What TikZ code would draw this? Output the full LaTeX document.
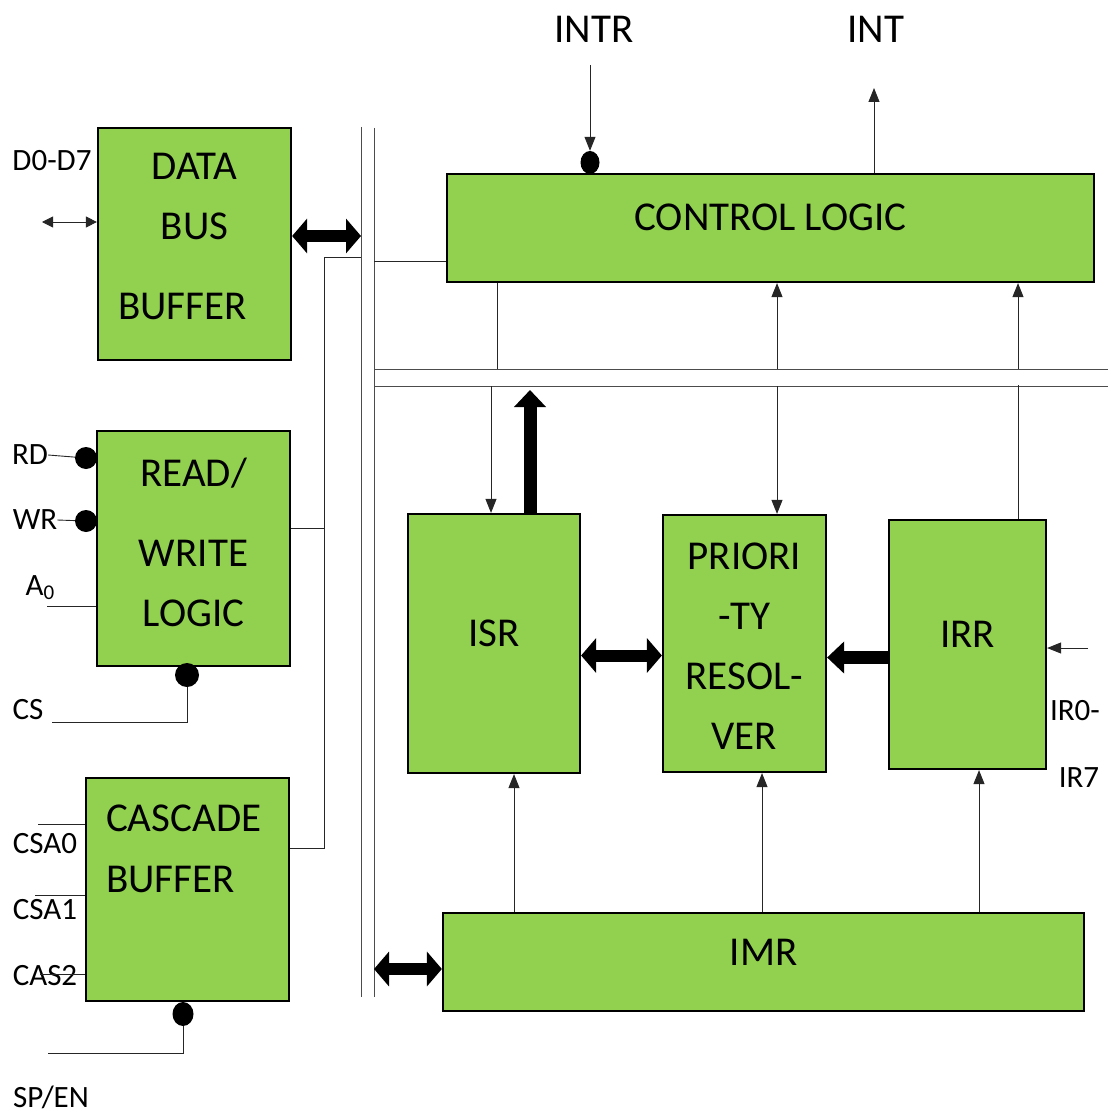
\documentclass[tikz,border=0pt]{standalone}
\usepackage{fontspec}
\setmainfont{Carlito}
\usetikzlibrary{arrows.meta,positioning,shapes.geometric}
\definecolor{blkgreen}{HTML}{92D050}
\newcommand{\bigtxt}{\fontsize{41}{60}\selectfont}
\newcommand{\pintxt}{\fontsize{31}{37}\selectfont}
\newcommand{\boxlines}[3]{\parbox[c][#1][t]{#2}{\centering\bigtxt #3}}
\tikzset{
  blk/.style={draw=black, fill=blkgreen, line width=2.2pt, inner sep=0pt, font=\bigtxt},
  oneline/.style={text height=26pt, text depth=20pt},
  pin/.style={inner sep=0pt, font=\pintxt},
  sig/.style={inner sep=0pt, font=\bigtxt},
  wire/.style={line width=0.9pt, draw=black!85},
  busline/.style={line width=1pt, draw=black!70},
  thinarr/.style={wire, -{Triangle[length=14pt,width=11pt]}},
  thinboth/.style={wire, {Triangle[length=11pt,width=11pt]}-{Triangle[length=11pt,width=11pt]}},
  fatarr/.style={line width=13pt, -{Triangle[length=17pt,width=31pt]}},
  fatboth/.style={line width=12pt, {Triangle[length=15pt,width=34pt]}-{Triangle[length=15pt,width=34pt]}},
  bubble/.style={ellipse, fill=black, inner sep=0pt}
}

\begin{document}
\begin{tikzpicture}[x=1pt, y=-1pt]
\useasboundingbox (0,0) rectangle (1114,1115);

\node[blk, minimum width=193pt, minimum height=232pt] (dbb) at (194.5,244) {\boxlines{182pt}{190pt}{DATA\\BUS\\[20pt]BUFFER\kern24pt}};
\node[blk, minimum width=193pt, minimum height=235pt] (rwl) at (193.5,548.5) {\boxlines{181pt}{190pt}{READ/\\[20pt]WRITE\\LOGIC}};
\node[blk, minimum width=203pt, minimum height=223pt] (cas) at (187.5,889.5) {\parbox[c][169pt][t]{163pt}{\bigtxt CASCADE\\[1pt]BUFFER}};
\node[blk, oneline, minimum width=647pt, minimum height=108pt] (ctl) at (770.5,228) {CONTROL LOGIC};
\node[blk, oneline, minimum width=172pt, minimum height=259pt] (isr) at (494,643.5) {ISR};
\node[blk, minimum width=163pt, minimum height=257pt] (pri) at (744.5,643.5) {\boxlines{201pt}{160pt}{PRIORI\\-TY\\RESOL-\\VER}};
\node[blk, oneline, minimum width=157pt, minimum height=249pt] (irr) at (967.5,644.5) {IRR};
\node[blk, oneline, minimum width=641pt, minimum height=98pt] (imr) at (763.5,962) {IMR};

\node[sig] (intr) at (594,29) {INTR};
\node[sig] (int) at (876,29) {INT};
\node[bubble, minimum width=19pt, minimum height=23pt] (intrb) at (590,162.5) {};
\coordinate (intrtop) at (590,65);
\coordinate (intend) at (874,88);
\draw[thinarr] (intrtop) -- (intrb);
\draw[thinarr] (ctl.north -| intend) -- (intend);

\node[pin] (dbus) at (52,161) {D0-D7};
\coordinate (dend) at (42,222);
\draw[thinboth] (dend) -- (dend -| dbb.west);

\node[pin] (rd) at (30,455) {RD};
\node[pin] (wr) at (35,520) {WR};
\node[pin] (a0) at (40,588) {A\raisebox{-4pt}{\fontsize{21}{21}\selectfont 0}};
\node[pin] (cs) at (28,710) {CS};
\node[bubble, minimum size=22pt] (rddot) at (86,458) {};
\node[bubble, minimum size=22pt] (wrdot) at (86,521) {};
\node[bubble, minimum size=24pt] (csdot) at (187,675) {};
\coordinate (a0end) at (47,606);
\coordinate (csend) at (52,722);
\draw[wire] (rd.east) -- (rddot);
\draw[wire] (wr.east) -- (wrdot);
\draw[wire] (a0end) -- (a0end -| rwl.west);
\draw[wire] (csdot) |- (csend);

\node[pin] (csa0) at (45,844) {CSA0};
\node[pin] (csa1) at (45,910) {CSA1};
\node[pin] (cas2) at (45,976) {CAS2};
\node[pin] (spen) at (51,1097) {SP/EN};
\node[bubble, minimum width=21pt, minimum height=24pt] (spdot) at (183,1014) {};
\coordinate (csa0end) at (38,824);
\coordinate (csa1end) at (35,895);
\coordinate (cas2end) at (40,974);
\coordinate (spend) at (48,1053);
\draw[wire] (csa0end) -- (csa0end -| cas.west);
\draw[wire] (csa1end) -- (csa1end -| cas.west);
\draw[wire] (cas2end) -- (cas2end -| cas.west);
\draw[wire] (spdot) |- (spend);

\coordinate (bl1) at (361,127);
\coordinate (bl2) at (361,997);
\coordinate (br1) at (374,128);
\coordinate (br2) at (374,997);
\coordinate (bh1) at (1108,369);
\coordinate (bh2) at (1108,386);
\draw[busline] (bl1) -- (bl2);
\draw[busline] (br1) -- (br2);
\draw[busline] (br1 |- bh1) -- (bh1);
\draw[busline] (br1 |- bh2) -- (bh2);

\draw[fatboth] ([yshift=8pt]dbb.east) -- ([yshift=8pt]dbb.east -| bl1);
\draw[wire] ([yshift=-33pt]ctl.west) -- ([yshift=-33pt]ctl.west -| br1);
\coordinate (jtop) at (324,257);
\coordinate (jbot) at (324,848);
\draw[wire] (jtop -| bl1) -- (jtop) -- (jbot) -- (jbot -| cas.east);
\draw[wire] ([yshift=20pt]rwl.east) -- ([yshift=20pt]rwl.east -| jtop);

\coordinate (ctlout) at (497,369);
\coordinate (isrin) at (491,386);
\coordinate (isrup) at (530,390);
\coordinate (pra) at (777,369);
\coordinate (prb) at (777,386);
\coordinate (irra) at (1018,369);
\coordinate (irrb) at (1018,385);
\draw[wire] (ctl.south -| ctlout) -- (ctlout);
\draw[thinarr] (isrin) -- (isrin |- isr.north);
\draw[fatarr] (isr.north -| isrup) -- (isrup);
\draw[thinarr] (pra) -- (pra |- ctl.south);
\draw[thinarr] (prb) -- (prb |- pri.north);
\draw[thinarr] (irra) -- (irra |- ctl.south);
\draw[wire] (irr.north -| irrb) -- (irrb);

\draw[fatboth] ([yshift=-12pt]isr.east) -- ([yshift=-12pt]isr.east -| pri.west);
\draw[fatarr] ([yshift=-13pt]irr.west) -- ([yshift=-13pt]irr.west -| pri.east);
\draw[fatboth] ([yshift=-7pt]imr.west -| br1) -- ([yshift=-7pt]imr.west);
\foreach \bx/\tgt in {514/isr, 762/pri, 979/irr}
  \draw[thinarr] (imr.north -| \bx,0) -- (\tgt.south -| \bx,0);

\node[pin] (ir0) at (1075,711) {IR0-};
\node[pin] (ir7) at (1079,778) {IR7};
\coordinate (irin) at (1088,648);
\draw[thinarr] (irin) -- (irin -| irr.east);
\end{tikzpicture}
\end{document}
